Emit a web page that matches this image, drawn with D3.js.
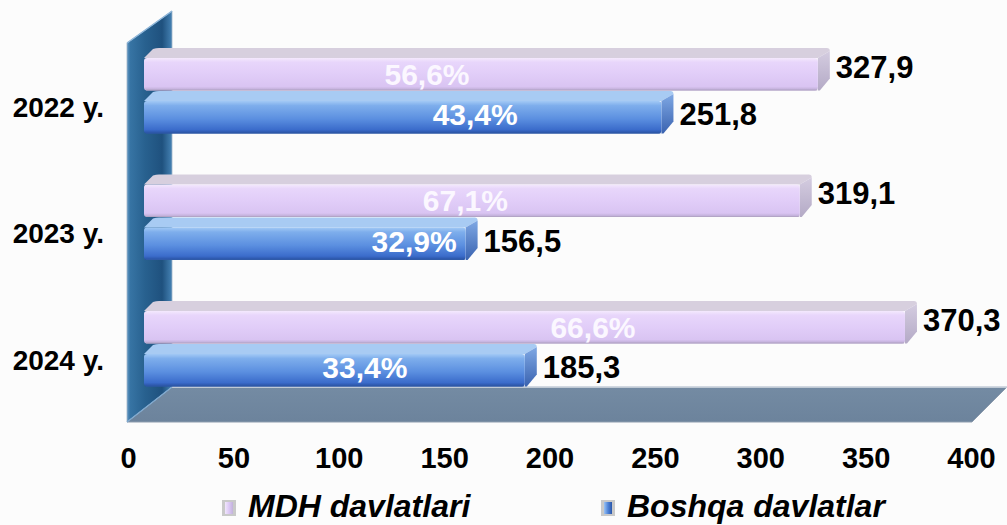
<!DOCTYPE html>
<html>
<head>
<meta charset="utf-8">
<script src="https://cdn.jsdelivr.net/npm/d3@7/dist/d3.min.js"></script>
<style>
  html, body { margin: 0; padding: 0; background: #fcfcfc; }
  svg { display: block; font-family: "Liberation Sans", Arial, sans-serif; }
</style>
</head>
<body>
<svg id="chart" width="1007" height="525"></svg>
<script>
// Trade by group of countries, 2022-2024
const categories = ["2022 y.", "2023 y.", "2024 y."];
const seriesNames = ["MDH davlatlari", "Boshqa davlatlar"];
const mdhValues = [327.9, 319.1, 370.3];
const boshqaValues = [251.8, 156.5, 185.3];
const mdhShare = [56.6, 67.1, 66.6];
const boshqaShare = [43.4, 32.9, 33.4];
const axisTicks = [0, 50, 100, 150, 200, 250, 300, 350, 400];

// where each share label sits along its bar (fraction of bar length)
const shareLabelPos = [[0.42, 0.64], [0.49, 0.84], [0.59, 0.58]];

const W = 1007, H = 525;
const DX = 12, DY = 10;            // oblique depth of each bar
const svg = d3.select("#chart");
const defs = svg.append("defs");

svg.append("rect").attr("width", W).attr("height", H).attr("fill", "#fcfcfc");

// scales: bars sit on the back plane, tick labels on the front edge of the floor
const xBar = d3.scaleLinear().domain([0, 400]).range([144, 966]);
const xTick = d3.scaleLinear().domain([0, 400]).range([128, 971]);
const y0 = d3.scaleBand().domain(categories).range([48, 387]).paddingInner(0.32).paddingOuter(0);
const y1 = d3.scaleBand().domain(seriesNames).range([0, y0.bandwidth()]);

function grad(id, stops, x2, y2) {
  const g = defs.append("linearGradient").attr("id", id)
    .attr("x1", 0).attr("y1", 0).attr("x2", x2).attr("y2", y2);
  stops.forEach(([o, c]) => g.append("stop").attr("offset", o).attr("stop-color", c));
}
grad("lavFront", [[0, "#f4e9fd"], [0.13, "#e8d6fb"], [0.5, "#e1cdf8"], [0.88, "#d9c4f2"], [1, "#b9a8d0"]], 0, 1);
grad("lavCap", [[0, "#d4cce0"], [1, "#b4aac6"]], 0, 1);
grad("blueFront", [[0, "#a2c9f5"], [0.14, "#7eaeec"], [0.55, "#5b8fe0"], [0.88, "#3b6ccb"], [1, "#274f9f"]], 0, 1);
grad("blueCap", [[0, "#7fa8e4"], [1, "#3a63b0"]], 0, 1);
grad("wall", [[0, "#6197c4"], [0.07, "#3774a4"], [0.4, "#28618f"], [0.78, "#1f517e"], [1, "#4582b4"]], 1, 0);
grad("floor", [[0, "#748ba3"], [1, "#6c839c"]], 0, 1);
grad("legLav", [[0, "#f1e6fc"], [0.5, "#dcc8f6"], [1, "#c2b2da"]], 1, 0);
grad("legBlue", [[0, "#9cc4f3"], [0.5, "#4f84d9"], [1, "#2a56a8"]], 1, 0);

const seriesStyle = [
  { front: "url(#lavFront)", top: "#d7cfde", cap: "url(#lavCap)", edge: "#b3a5c6" },
  { front: "url(#blueFront)", top: "#a8cbf3", cap: "url(#blueCap)", edge: "#2f5aa8" }
];

// floor
const fl = { x0: 127, x1: 972, yF: 422, xb0: 172, xb1: 1007, yB: 387 };
svg.append("path")
  .attr("d", `M${fl.x0},${fl.yF} L${fl.xb0},${fl.yB} L${fl.xb1},${fl.yB} L${fl.x1},${fl.yF} Z`)
  .attr("fill", "url(#floor)").attr("stroke", "#8d9cae").attr("stroke-width", 1);
svg.append("line").attr("x1", fl.xb0).attr("x2", fl.xb1).attr("y1", fl.yB).attr("y2", fl.yB)
  .attr("stroke", "#d6dde5").attr("stroke-width", 1.5);

// side wall
svg.append("path")
  .attr("d", `M127,43 L172,11 L172,${fl.yB} L127,${fl.yF} Z`)
  .attr("fill", "url(#wall)").attr("stroke", "#9fb4c8").attr("stroke-width", 0.8);
svg.append("line").attr("x1", 127).attr("y1", 43).attr("x2", 172).attr("y2", 11)
  .attr("stroke", "#8fb7da").attr("stroke-width", 1.5);
svg.append("line").attr("x1", 127).attr("y1", fl.yF).attr("x2", 172).attr("y2", fl.yB)
  .attr("stroke", "#7fa9cf").attr("stroke-width", 1.2);

// bars
const rows = categories.flatMap((c, i) => [
  { cat: c, s: 0, v: mdhValues[i], share: mdhShare[i], pos: shareLabelPos[i][0] },
  { cat: c, s: 1, v: boshqaValues[i], share: boshqaShare[i], pos: shareLabelPos[i][1] }
]);

const fmt = v => d3.format(".1f")(v).replace(".", ",");

svg.append("g").selectAll("g").data(rows).join("g")
  .each(function (d) {
    const g = d3.select(this);
    const st = seriesStyle[d.s];
    const top = y0(d.cat) + y1(seriesNames[d.s]);
    const yf = top + DY;
    const yb = top + y1.bandwidth() - 0.5;
    const xa = xBar(0), xb = xBar(d.v);
    // top face
    g.append("path")
      .attr("d", `M${xa},${yf} L${xa + DX - 3},${top + 1} Q${xa + DX},${top} ${xa + DX + 3},${top} L${xb + DX - 3},${top} Q${xb + DX},${top} ${xb + DX},${top + 3} L${xb},${yf} Z`)
      .attr("fill", st.top);
    // end cap
    g.append("path")
      .attr("d", `M${xb},${yf} L${xb + DX},${top + 3} L${xb + DX},${yb - DY - 2} L${xb + 2},${yb} L${xb},${yb} Z`)
      .attr("fill", st.cap);
    // front face
    g.append("rect")
      .attr("x", xa).attr("y", yf).attr("width", xb - xa).attr("height", yb - yf)
      .attr("rx", 3).attr("fill", st.front);
    g.append("line").attr("x1", xa + 2).attr("x2", xb - 1).attr("y1", yb - 0.5).attr("y2", yb - 0.5)
      .attr("stroke", st.edge).attr("stroke-width", 1);
    // share label inside the bar
    g.append("text")
      .attr("x", xa + d.pos * (xb - xa))
      .attr("y", top + (d.s === 0 ? 37 : 34))
      .attr("text-anchor", "middle")
      .attr("font-size", 30).attr("font-weight", "bold")
      .attr("fill", d.s === 0 ? "#fbf7ff" : "#ffffff")
      .text(fmt(d.share) + "%");
    // value label after the bar
    g.append("text")
      .attr("x", xb + DX + 6)
      .attr("y", top + (d.s === 0 ? 30 : 34))
      .attr("font-size", 31).attr("font-weight", "bold").attr("fill", "#000")
      .text(fmt(d.v));
  });

// category labels
svg.append("g").selectAll("text").data(categories).join("text")
  .attr("x", 104).attr("y", d => y0(d) + y0.bandwidth() * 0.8)
  .attr("text-anchor", "end")
  .attr("font-size", 28).attr("font-weight", "bold").attr("fill", "#000")
  .text(d => d);

// value axis along the front of the floor
const axis = svg.append("g").attr("transform", "translate(0,468)")
  .call(d3.axisBottom(xTick).tickValues(axisTicks).tickSize(0).tickFormat(d3.format("d")));
axis.select(".domain").remove();
axis.selectAll("text")
  .attr("y", 0).attr("dy", 0)
  .attr("font-size", 29).attr("font-weight", "bold").attr("fill", "#000")
  .attr("font-family", "'Liberation Sans', Arial, sans-serif");

// legend
const legendX = [222, 601];
const legendFill = ["url(#legLav)", "url(#legBlue)"];
const leg = svg.append("g").selectAll("g").data(seriesNames).join("g")
  .attr("transform", (d, i) => `translate(${legendX[i]},0)`);
leg.append("rect").attr("x", 0).attr("y", 500).attr("width", 14).attr("height", 16)
  .attr("fill", "#c9c9c9");
leg.append("rect").attr("x", 3).attr("y", 502).attr("width", 8).attr("height", 12)
  .attr("fill", (d, i) => legendFill[i]);
leg.append("text").attr("x", 26).attr("y", 517)
  .attr("font-size", 32).attr("font-weight", "bold").attr("font-style", "italic").attr("fill", "#000")
  .text(d => d);
</script>
</body>
</html>
